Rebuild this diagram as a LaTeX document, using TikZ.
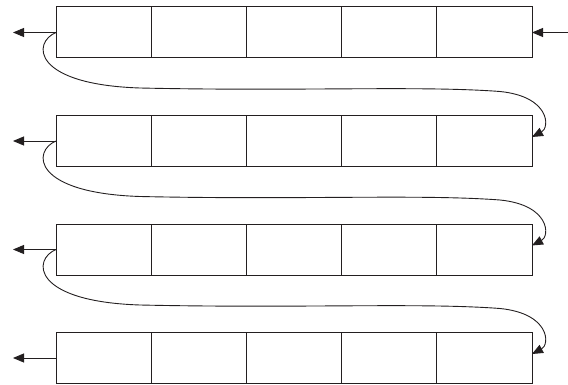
\documentclass[tikz,border=0pt]{standalone}
\usetikzlibrary{arrows.meta}
\definecolor{ink}{HTML}{231F20}
\begin{document}
\begin{tikzpicture}[x=1pt,y=-1pt,
  cell/.style={draw=ink,line width=1pt,minimum width=95.2pt,minimum height=51pt,inner sep=0pt,outer sep=0pt},
  link/.style={draw=ink,line width=0.9pt,-{Triangle[length=11pt,width=9pt]}}]
\useasboundingbox (0,0) rectangle (568,385);
\foreach \r in {1,2,3,4}{
  \pgfmathsetmacro{\m}{32.5+108.5*(\r-1)}
  \foreach \c in {1,...,5}{
    \pgfmathsetmacro{\xx}{56+95.2*(\c-0.5)}
    \node[cell] (b\r\c) at (\xx,\m) {};
  }
  \coordinate (l\r) at (13,\m);
  \draw[link] (b\r1.west) -- (l\r);
}
\coordinate (rin) at (568,32.5);
\draw[link] (rin) -- (b15.east);
\foreach \r/\n in {1/2,2/3,3/4}{
  \pgfmathsetmacro{\m}{32.5+108.5*(\r-1)}
  \draw[link] (b\r1.west) .. controls (32,\m+10) and (32,\m+52) .. (140,\m+55.5)
     .. controls (300,\m+59) and (420,\m+53) .. (500,\m+59)
     .. controls (550,\m+64) and (550,\m+95) .. ([yshift=4pt]b\n5.east);
}
\end{tikzpicture}
\end{document}
